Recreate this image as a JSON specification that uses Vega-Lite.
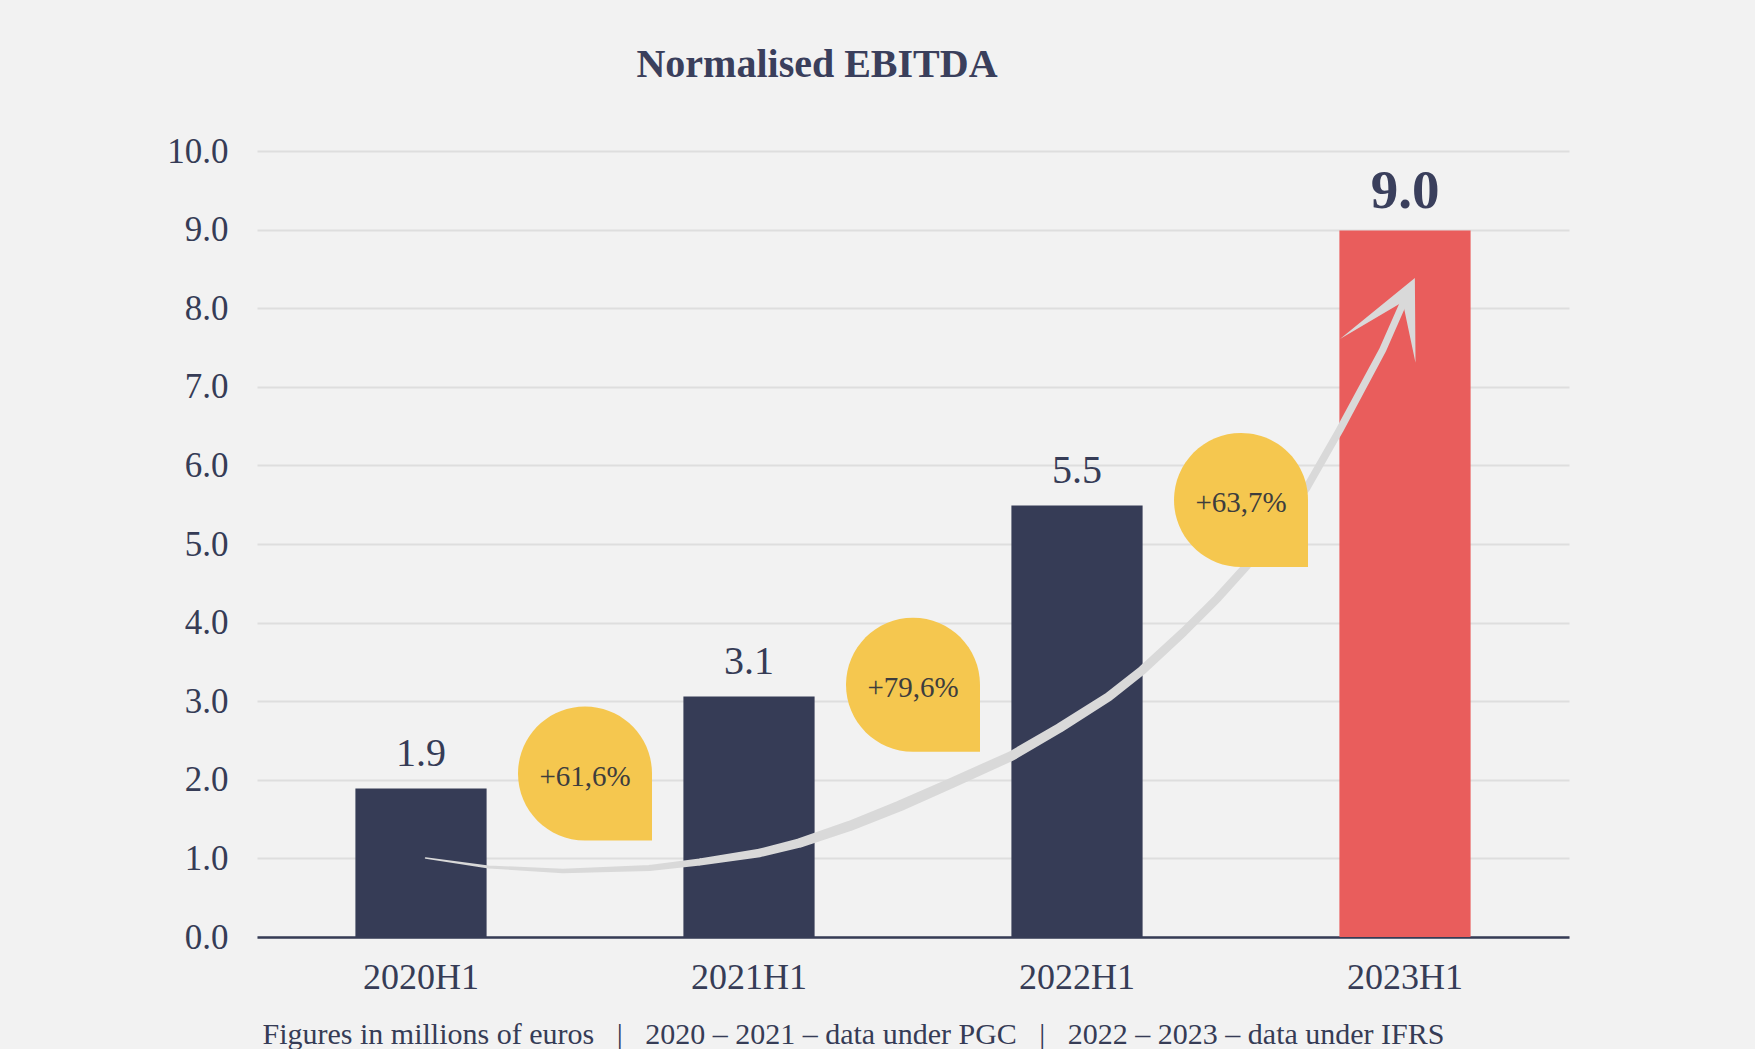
{
  "$schema": "https://vega.github.io/schema/vega-lite/v6.json",
  "width": 1312,
  "height": 786,
  "autosize": {"type": "none"},
  "padding": {"left": 257, "top": 151, "right": 186, "bottom": 112},
  "background": "#f2f2f2",
  "config": {"view": {"stroke": null}, "font": "Liberation Serif"},
  "title": {
    "text": "Normalised EBITDA",
    "fontSize": 40,
    "fontWeight": "bold",
    "color": "#3a3f5c",
    "font": "Liberation Serif",
    "anchor": "middle",
    "dx": -96,
    "baseline": "alphabetic",
    "offset": 17
  },
  "datasets": {
    "bars": [
      {"period": "2020H1", "value": 1.89},
      {"period": "2021H1", "value": 3.06},
      {"period": "2022H1", "value": 5.49},
      {"period": "2023H1", "value": 8.99}
    ],
    "growth": [
      {"x": 1, "y": 2.08, "label": "+61,6%"},
      {"x": 2, "y": 3.21, "label": "+79,6%"},
      {"x": 3, "y": 5.56, "label": "+63,7%"}
    ],
    "arrow": [
      {"x": 0.514, "y": 1.005},
      {"x": 0.706, "y": 0.891},
      {"x": 0.932, "y": 0.840},
      {"x": 1.197, "y": 0.878},
      {"x": 1.350, "y": 0.954},
      {"x": 1.532, "y": 1.069},
      {"x": 1.654, "y": 1.196},
      {"x": 1.807, "y": 1.413},
      {"x": 1.959, "y": 1.667},
      {"x": 2.111, "y": 1.947},
      {"x": 2.300, "y": 2.303},
      {"x": 2.447, "y": 2.660},
      {"x": 2.596, "y": 3.054},
      {"x": 2.700, "y": 3.398},
      {"x": 2.825, "y": 3.881},
      {"x": 2.929, "y": 4.314},
      {"x": 3.017, "y": 4.721},
      {"x": 3.102, "y": 5.179},
      {"x": 3.200, "y": 5.714},
      {"x": 3.301, "y": 6.452},
      {"x": 3.432, "y": 7.470},
      {"x": 3.499, "y": 8.106}
    ],
    "head": [{"x": 3.493, "y": 8.08}]
  },
  "layer": [
    {
      "data": {"name": "bars"},
      "layer": [
        {
          "mark": {"type": "bar"},
          "encoding": {
            "x": {
              "field": "period",
              "type": "nominal",
              "sort": null,
              "scale": {"paddingInner": 0.6, "paddingOuter": 0.3},
              "axis": {
                "labelAngle": 0,
                "labelFontSize": 36,
                "labelColor": "#363c56",
                "labelFont": "Liberation Serif",
                "labelBaseline": "alphabetic",
                "labelPadding": 51,
                "ticks": false,
                "tickSize": 0,
                "domainColor": "#363c56",
                "domainWidth": 2.5,
                "grid": false,
                "title": "Figures in millions of euros\u00a0\u00a0\u00a0|\u00a0\u00a0\u00a02020 – 2021 – data under PGC\u00a0\u00a0\u00a0|\u00a0\u00a0\u00a02022 – 2023 – data under IFRS",
                "titleFont": "Liberation Serif",
                "titleFontSize": 30,
                "titleFontWeight": "normal",
                "titleColor": "#363c56",
                "titleX": 596,
                "titleY": 106,
                "titleAlign": "center",
                "titleBaseline": "alphabetic"
              }
            },
            "y": {
              "field": "value",
              "type": "quantitative",
              "title": null,
              "scale": {"domain": [0, 10], "nice": false, "zero": true},
              "axis": {
                "values": [0, 1, 2, 3, 4, 5, 6, 7, 8, 9, 10],
                "format": ".1f",
                "labelFontSize": 35,
                "labelColor": "#363c56",
                "labelFont": "Liberation Serif",
                "labelPadding": 29,
                "ticks": false,
                "tickSize": 0,
                "domain": false,
                "gridColor": "#dedede",
                "gridWidth": 2,
                "title": null
              }
            },
            "color": {
              "field": "period",
              "type": "nominal",
              "scale": {
                "domain": ["2020H1", "2021H1", "2022H1", "2023H1"],
                "range": ["#363c56", "#363c56", "#363c56", "#e95d5c"]
              },
              "legend": null
            }
          }
        },
        {
          "transform": [{"filter": "datum.period !== '2023H1'"}],
          "mark": {"type": "text", "dy": -22, "baseline": "alphabetic", "fontSize": 40, "color": "#363c56", "font": "Liberation Serif"},
          "encoding": {
            "x": {"field": "period", "type": "nominal", "sort": null},
            "y": {"field": "value", "type": "quantitative", "title": null},
            "text": {"field": "value", "type": "quantitative", "format": ".1f"}
          }
        },
        {
          "transform": [{"filter": "datum.period === '2023H1'"}],
          "mark": {"type": "text", "dy": -22, "baseline": "alphabetic", "fontSize": 55, "fontWeight": "bold", "color": "#3a3f5c", "font": "Liberation Serif"},
          "encoding": {
            "x": {"field": "period", "type": "nominal", "sort": null},
            "y": {"field": "value", "type": "quantitative", "title": null},
            "text": {"field": "value", "type": "quantitative", "format": ".1f"}
          }
        }
      ]
    },
    {
      "layer": [
        {
          "data": {"name": "arrow"},
          "mark": {"type": "trail", "color": "#d9d9d9"},
          "encoding": {
            "x": {"field": "x", "type": "quantitative", "axis": null, "scale": {"domain": [0, 4], "nice": false, "zero": false}},
            "y": {"field": "y", "type": "quantitative", "title": null},
            "size": {"field": "x", "type": "quantitative", "scale": {"domain": [0.5, 1.9, 3.5], "range": [1.5, 11, 7], "clamp": true, "zero": false}, "legend": null}
          }
        },
        {
          "data": {"name": "head"},
          "mark": {"type": "point", "shape": "M 0.19 -0.375 L -0.98 0.58 L 0 0 L 0.2 0.95 Z", "size": 16384, "filled": true, "fill": "#d9d9d9", "opacity": 1, "strokeWidth": 0},
          "encoding": {
            "x": {"field": "x", "type": "quantitative", "axis": null, "scale": {"domain": [0, 4], "nice": false, "zero": false}},
            "y": {"field": "y", "type": "quantitative", "title": null}
          }
        },
        {
          "data": {"name": "growth"},
          "mark": {"type": "point", "shape": "M -1 0 C -1 -0.5523 -0.5523 -1 0 -1 C 0.5523 -1 1 -0.5523 1 0 L 1 1 L 0 1 C -0.5523 1 -1 0.5523 -1 0 Z", "size": 17956, "filled": true, "fill": "#f5c74f", "opacity": 1, "strokeWidth": 0},
          "encoding": {
            "x": {"field": "x", "type": "quantitative", "axis": null, "scale": {"domain": [0, 4], "nice": false, "zero": false}},
            "y": {"field": "y", "type": "quantitative", "title": null}
          }
        },
        {
          "data": {"name": "growth"},
          "mark": {"type": "text", "fontSize": 29, "color": "#3d3d3d", "baseline": "middle", "dy": 3, "font": "Liberation Serif"},
          "encoding": {
            "x": {"field": "x", "type": "quantitative", "axis": null, "scale": {"domain": [0, 4], "nice": false, "zero": false}},
            "y": {"field": "y", "type": "quantitative", "title": null},
            "text": {"field": "label", "type": "nominal"}
          }
        }
      ]
    }
  ],
  "resolve": {"scale": {"x": "independent"}}
}
